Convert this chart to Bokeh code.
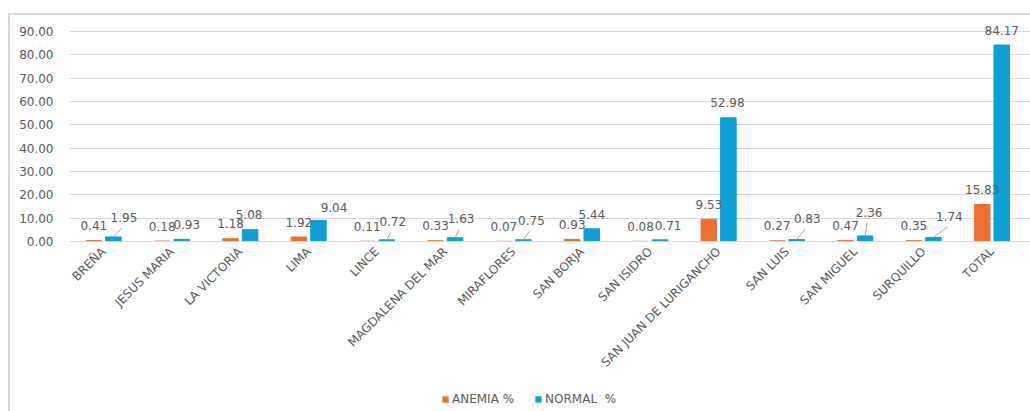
from bokeh.plotting import figure
from bokeh.layouts import column
from bokeh.models import (ColumnDataSource, Range1d, FixedTicker, NumeralTickFormatter,
                          LabelSet, Legend, LegendItem)
from bokeh.core.properties import value
from bokeh.embed import file_html
from bokeh.resources import INLINE
import math

# ---- data ----
districts = ["BREÑA", "JESUS MARIA", "LA VICTORIA", "LIMA", "LINCE", "MAGDALENA DEL MAR",
             "MIRAFLORES", "SAN BORJA", "SAN ISIDRO", "SAN JUAN DE LURIGANCHO", "SAN LUIS",
             "SAN MIGUEL", "SURQUILLO", "TOTAL"]
anemia = [0.41, 0.18, 1.18, 1.92, 0.11, 0.33, 0.07, 0.93, 0.08, 9.53, 0.27, 0.47, 0.35, 15.83]
normal = [1.95, 0.93, 5.08, 9.04, 0.72, 1.63, 0.75, 5.44, 0.71, 52.98, 0.83, 2.36, 1.74, 84.17]
series_names = ["ANEMIA %", "NORMAL  %"]
y_ticks = [0, 10, 20, 30, 40, 50, 60, 70, 80, 90]

# label nudges (pixels) for the NORMAL % data labels, and which have leader lines
normal_dx_px = [10.5, 5, -1, 15.6, 6, 6, 8, 0, 8, -1, 10.5, 4, 16, 0]
normal_dy_px = [19.5, 15, 15, 13, 18, 19, 19, 14, 14, 15, 21, 23.5, 21, 14.6]
leader = [1, 0, 0, 0, 1, 1, 1, 0, 0, 0, 1, 1, 1, 0]

ORANGE = "#E97132"
BLUE = "#0F9ED5"
TXT = "#595959"
GRID = "#D9D9D9"
FONT = "DejaVu Sans"

OFF = 0.143
BW = 0.227
PX_PER_X = 68.3
PX_PER_Y = 2.333

idx = list(range(len(districts)))
src_a = ColumnDataSource(dict(x=[i - OFF for i in idx], top=anemia,
                              lbl=[f"{v:.2f}" for v in anemia]))
src_n = ColumnDataSource(dict(x=[i + OFF for i in idx], top=normal,
                              lbl=[f"{v:.2f}" for v in normal],
                              dx=normal_dx_px, dy=normal_dy_px))

p = figure(width=1020, height=370, output_backend="svg", toolbar_location=None,
           x_range=Range1d(-0.5, 13.564), y_range=Range1d(0, 96.4),
           min_border_left=59, min_border_right=0, min_border_top=1, min_border_bottom=144)
p.outline_line_color = None
p.background_fill_color = "white"
p.border_fill_color = "white"

ra = p.vbar(x="x", top="top", width=BW, bottom=0, source=src_a, color=ORANGE)
rn = p.vbar(x="x", top="top", width=BW, bottom=0, source=src_n, color=BLUE)

# leader lines
lx0, ly0, lx1, ly1 = [], [], [], []
for i in idx:
    if leader[i]:
        bx = i + OFF
        lx0.append(bx)
        ly0.append(normal[i])
        lx1.append(bx + (normal_dx_px[i] - 2) / PX_PER_X)
        ly1.append(normal[i] + (normal_dy_px[i] - 10.5) / PX_PER_Y)
p.segment(lx0, ly0, lx1, ly1, line_color="#A6A6A6", line_width=1)

la = LabelSet(x="x", y="top", text="lbl", source=src_a, y_offset=15,
              text_align="center", text_baseline="middle",
              text_font=value(FONT), text_font_size="12px", text_color=TXT)
ln = LabelSet(x="x", y="top", text="lbl", source=src_n, x_offset="dx", y_offset="dy",
              text_align="center", text_baseline="middle",
              text_font=value(FONT), text_font_size="12px", text_color=TXT)
p.add_layout(la)
p.add_layout(ln)

# axes
p.yaxis.ticker = FixedTicker(ticks=y_ticks)
p.yaxis.formatter = NumeralTickFormatter(format="0.00")
p.yaxis.axis_line_color = None
p.yaxis.major_tick_line_color = None
p.yaxis.minor_tick_line_color = None
p.yaxis.major_tick_out = 0
p.yaxis.major_label_standoff = 16
p.yaxis.major_label_text_font = FONT
p.yaxis.major_label_text_font_size = "12px"
p.yaxis.major_label_text_color = TXT

p.xaxis.ticker = FixedTicker(ticks=idx)
p.xaxis.major_label_overrides = {i: d for i, d in enumerate(districts)}
p.xaxis.major_label_orientation = math.pi / 4
p.xaxis.axis_line_color = GRID
p.xaxis.axis_line_width = 1
p.xaxis.major_tick_line_color = None
p.xaxis.minor_tick_line_color = None
p.xaxis.major_tick_out = 0
p.xaxis.major_label_standoff = 8
p.xaxis.major_label_text_font = FONT
p.xaxis.major_label_text_font_size = "12px"
p.xaxis.major_label_text_color = TXT

p.xgrid.grid_line_color = None
p.ygrid.grid_line_color = GRID
p.ygrid.grid_line_width = 1

# legend strip (separate figure below the chart); swatch bars have zero height
pl = figure(width=1020, height=26, output_backend="svg", toolbar_location=None,
            x_range=Range1d(0, 1), y_range=Range1d(0, 1),
            x_axis_type=None, y_axis_type=None, min_border=0)
pl.outline_line_color = None
pl.xgrid.grid_line_color = None
pl.ygrid.grid_line_color = None
pl.background_fill_color = "white"
pl.border_fill_color = "white"
la_r = pl.vbar(x=[0.5], top=[0], bottom=[0], width=0.01, fill_color=ORANGE, line_alpha=0)
ln_r = pl.vbar(x=[0.5], top=[0], bottom=[0], width=0.01, fill_color=BLUE, line_alpha=0)
legend = Legend(items=[LegendItem(label=series_names[0], renderers=[la_r]),
                       LegendItem(label=series_names[1], renderers=[ln_r])],
                orientation="horizontal", location=(372, 5),
                glyph_width=8, glyph_height=8, label_standoff=3, spacing=20,
                padding=0, margin=0, border_line_color=None, background_fill_alpha=0,
                label_text_font=FONT, label_text_font_size="12px", label_text_color=TXT)
pl.add_layout(legend)

lay = column(p, pl, spacing=0)
lay.styles = {"border-top": "2px solid #D9D9D9", "border-left": "2px solid #D9D9D9",
              "margin-top": "13px", "margin-left": "8px"}

open("out.html", "w").write(file_html(lay, INLINE))
